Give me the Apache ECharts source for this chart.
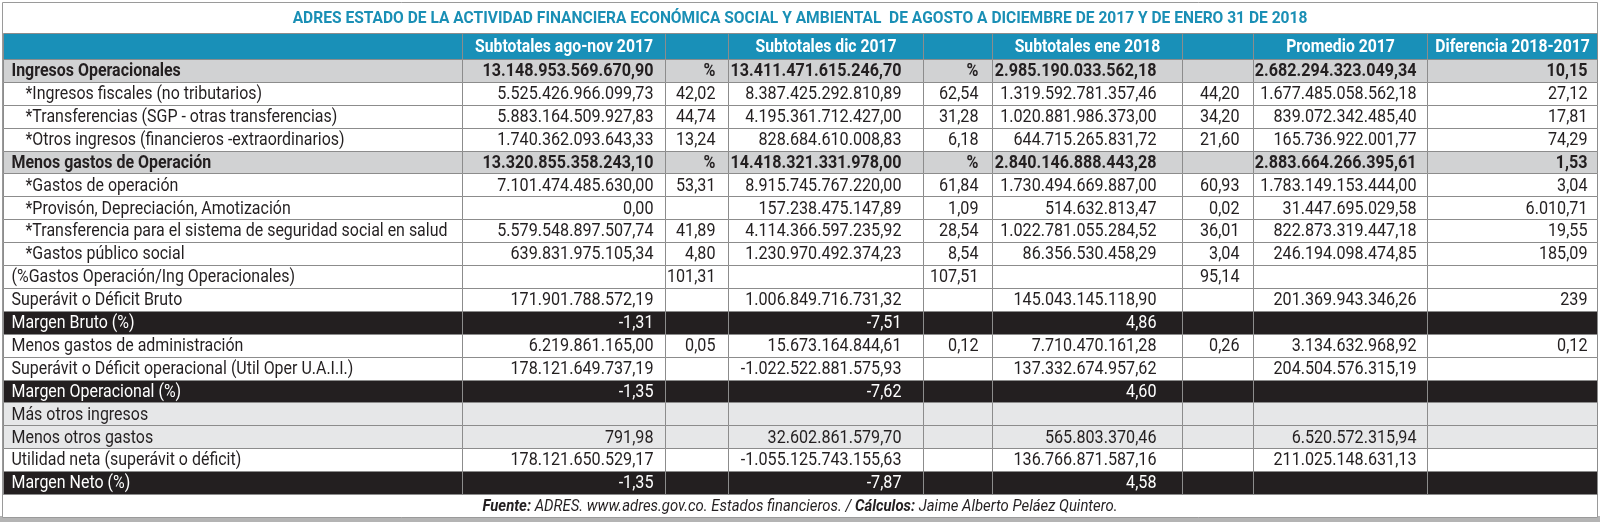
<!DOCTYPE html>
<html>
<head>
<meta charset="utf-8">
<script src="https://cdn.jsdelivr.net/npm/echarts@6/dist/echarts.min.js"></script>
<style>
  html, body { margin: 0; background: #fff; }
  #chart { width: 1600px; height: 522px; }
</style>
</head>
<body>
<div id="chart"></div>
<script>
const chartTitle = "ADRES ESTADO DE LA ACTIVIDAD FINANCIERA ECONÓMICA SOCIAL Y AMBIENTAL  DE AGOSTO A DICIEMBRE DE 2017 Y DE ENERO 31 DE 2018";
const headers = ["", "Subtotales ago-nov 2017", "", "Subtotales dic 2017", "", "Subtotales ene 2018", "", "Promedio 2017", "Diferencia 2018-2017"];

const rowLabels = [
  "Ingresos Operacionales",
  "*Ingresos fiscales (no tributarios)",
  "*Transferencias (SGP - otras transferencias)",
  "*Otros ingresos (financieros -extraordinarios)",
  "Menos gastos de Operación",
  "*Gastos de operación",
  "*Provisón, Depreciación, Amotización",
  "*Transferencia para el sistema de seguridad social en salud",
  "*Gastos público social",
  "(%Gastos Operación/Ing Operacionales)",
  "Superávit o Déficit Bruto",
  "Margen Bruto (%)",
  "Menos gastos de administración",
  "Superávit o Déficit operacional (Util Oper U.A.I.I.)",
  "Margen Operacional (%)",
  "Más otros ingresos",
  "Menos otros gastos",
  "Utilidad neta (superávit o déficit)",
  "Margen Neto (%)"
];
// section = subtotal row, item = detail row, margin = ratio row, other = otros ingresos/gastos
const rowKind = ["section", "item", "item", "item", "section", "item", "item", "item", "item",
  "plain", "plain", "margin", "plain", "plain", "margin", "other", "other", "plain", "margin"];

const agoNov = ["13.148.953.569.670,90", "5.525.426.966.099,73", "5.883.164.509.927,83", "1.740.362.093.643,33",
  "13.320.855.358.243,10", "7.101.474.485.630,00", "0,00", "5.579.548.897.507,74", "639.831.975.105,34",
  "", "171.901.788.572,19", "-1,31", "6.219.861.165,00", "178.121.649.737,19", "-1,35", "", "791,98",
  "178.121.650.529,17", "-1,35"];
const pctAgoNov = ["%", "42,02", "44,74", "13,24", "%", "53,31", "", "41,89", "4,80", "101,31", "", "", "0,05",
  "", "", "", "", "", ""];
const dic = ["13.411.471.615.246,70", "8.387.425.292.810,89", "4.195.361.712.427,00", "828.684.610.008,83",
  "14.418.321.331.978,00", "8.915.745.767.220,00", "157.238.475.147,89", "4.114.366.597.235,92",
  "1.230.970.492.374,23", "", "1.006.849.716.731,32", "-7,51", "15.673.164.844,61", "-1.022.522.881.575,93",
  "-7,62", "", "32.602.861.579,70", "-1.055.125.743.155,63", "-7,87"];
const pctDic = ["%", "62,54", "31,28", "6,18", "%", "61,84", "1,09", "28,54", "8,54", "107,51", "", "", "0,12",
  "", "", "", "", "", ""];
const ene = ["2.985.190.033.562,18", "1.319.592.781.357,46", "1.020.881.986.373,00", "644.715.265.831,72",
  "2.840.146.888.443,28", "1.730.494.669.887,00", "514.632.813,47", "1.022.781.055.284,52", "86.356.530.458,29",
  "", "145.043.145.118,90", "4,86", "7.710.470.161,28", "137.332.674.957,62", "4,60", "", "565.803.370,46",
  "136.766.871.587,16", "4,58"];
const pctEne = ["", "44,20", "34,20", "21,60", "", "60,93", "0,02", "36,01", "3,04", "95,14", "", "", "0,26",
  "", "", "", "", "", ""];
const promedio = ["2.682.294.323.049,34", "1.677.485.058.562,18", "839.072.342.485,40", "165.736.922.001,77",
  "2.883.664.266.395,61", "1.783.149.153.444,00", "31.447.695.029,58", "822.873.319.447,18",
  "246.194.098.474,85", "", "201.369.943.346,26", "", "3.134.632.968,92", "204.504.576.315,19", "", "",
  "6.520.572.315,94", "211.025.148.631,13", ""];
const diferencia = ["10,15", "27,12", "17,81", "74,29", "1,53", "3,04", "6.010,71", "19,55", "185,09", "", "239",
  "", "0,12", "", "", "", "", "", ""];
const footer = "{b|Fuente:}{n| ADRES. www.adres.gov.co. Estados financieros. / }{b|Cálculos:}{n| Jaime Alberto Peláez Quintero.}";

const columns = [rowLabels, agoNov, pctAgoNov, dic, pctDic, ene, pctEne, promedio, diferencia];

// layout
const TABLE_W = 1594;
const colEdges = [0, 459, 662, 725, 920, 989, 1179, 1250, 1424, 1594];
const colPad = [8, 12, 13, 22, 14, 26, 14, 11, 10];
const FONT = "Roboto";
const BORDER = "#8c8c8c";
const INK = "#231f20";
const kindStyle = {
  section: { bg: "#d1d2d3", color: INK, weight: "bold" },
  item: { bg: "#ffffff", color: INK, weight: "normal" },
  plain: { bg: "#ffffff", color: INK, weight: "normal" },
  margin: { bg: "#231f20", color: "#ffffff", weight: "normal" },
  other: { bg: "#e6e7e8", color: INK, weight: "normal" }
};

function cellBox(api, c, r) {
  const a = api.coord([colEdges[c], r]);
  const b = api.coord([colEdges[c + 1], r]);
  const h = api.size([0, 1])[1];
  const x0 = Math.round(a[0]) + 0.5, x1 = Math.round(b[0]) + 0.5;
  const y0 = Math.round(a[1] - h / 2) + 0.5, y1 = Math.round(a[1] + h / 2) + 0.5;
  return { x0, x1, y0, y1, cy: a[1] };
}

function renderHeader(params, api) {
  const c = api.value(0);
  const box = cellBox(api, c, 0);
  return {
    type: "group",
    children: [
      { type: "rect", shape: { x: box.x0, y: box.y0, width: box.x1 - box.x0, height: box.y1 - box.y0 },
        style: { fill: "#1990b8", stroke: BORDER, lineWidth: 1 } },
      { type: "text", x: (box.x0 + box.x1) / 2, y: box.cy + 1, scaleX: 0.875,
        style: { text: headers[c], fill: "#fff", fontFamily: FONT, fontWeight: "bold", fontSize: 18,
          textAlign: "center", verticalAlign: "middle" } }
    ]
  };
}

function renderBody(params, api) {
  const c = api.value(0), r = api.value(1);
  const box = cellBox(api, c, r);
  const st = kindStyle[rowKind[r]];
  const text = columns[c][r];
  let tx, align, sx;
  if (c === 0) {
    tx = box.x0 + (rowKind[r] === "item" ? 22 : colPad[0]);
    align = "left";
    sx = 0.84;
  } else {
    tx = box.x1 - colPad[c];
    align = "right";
    sx = 0.85;
  }
  return {
    type: "group",
    children: [
      { type: "rect", shape: { x: box.x0, y: box.y0, width: box.x1 - box.x0, height: box.y1 - box.y0 },
        style: { fill: st.bg, stroke: BORDER, lineWidth: 1 } },
      { type: "text", x: tx, y: box.cy + 1, scaleX: sx,
        style: { text: text, fill: st.color, fontFamily: FONT, fontWeight: st.weight, fontSize: 19,
          textAlign: align, verticalAlign: "middle" } }
    ]
  };
}

const headData = headers.map((h, c) => [c, 0]);
const bodyData = [];
rowLabels.forEach((lab, r) => {
  columns.forEach((col, c) => bodyData.push([c, r]));
});

const chart = echarts.init(document.getElementById("chart"), null, { renderer: "canvas" });
chart.setOption({
  animation: false,
  backgroundColor: "#fff",
  grid: [
    { left: 3, top: 33, width: TABLE_W, height: 26 },
    { left: 3, top: 59, width: TABLE_W, height: 435 }
  ],
  xAxis: [
    { type: "value", gridIndex: 0, min: 0, max: TABLE_W, show: false },
    { type: "value", gridIndex: 1, min: 0, max: TABLE_W, show: false }
  ],
  yAxis: [
    { type: "category", gridIndex: 0, data: ["header"], show: false },
    { type: "category", gridIndex: 1, data: rowLabels, inverse: true, show: false }
  ],
  graphic: [
    { type: "rect", z: -10, shape: { x: 0, y: 516, width: 1600, height: 6 }, style: { fill: "#b4b4b4" } },
    { type: "rect", z: -9, shape: { x: 2.5, y: 2.5, width: 1595, height: 515 },
      style: { fill: "#fff", stroke: "#9a9a9a", lineWidth: 1 } },
    { type: "text", x: 800, y: 19, scaleX: 0.915,
      style: { text: chartTitle, fill: "#1a8fb5", fontFamily: FONT, fontWeight: "bold", fontSize: 17,
        textAlign: "center", verticalAlign: "middle" } },
    { type: "text", x: 800, y: 507, scaleX: 0.93,
      style: { text: footer, fill: INK, fontFamily: FONT, fontSize: 16, textAlign: "center", verticalAlign: "middle",
        rich: {
          b: { fontFamily: FONT, fontSize: 16, fontStyle: "italic", fontWeight: "bold", fill: INK },
          n: { fontFamily: FONT, fontSize: 16, fontStyle: "italic", fill: INK }
        } } }
  ],
  series: [
    { type: "custom", xAxisIndex: 0, yAxisIndex: 0, data: headData, renderItem: renderHeader, silent: true },
    { type: "custom", xAxisIndex: 1, yAxisIndex: 1, data: bodyData, renderItem: renderBody, silent: true }
  ]
});
</script>
</body>
</html>
